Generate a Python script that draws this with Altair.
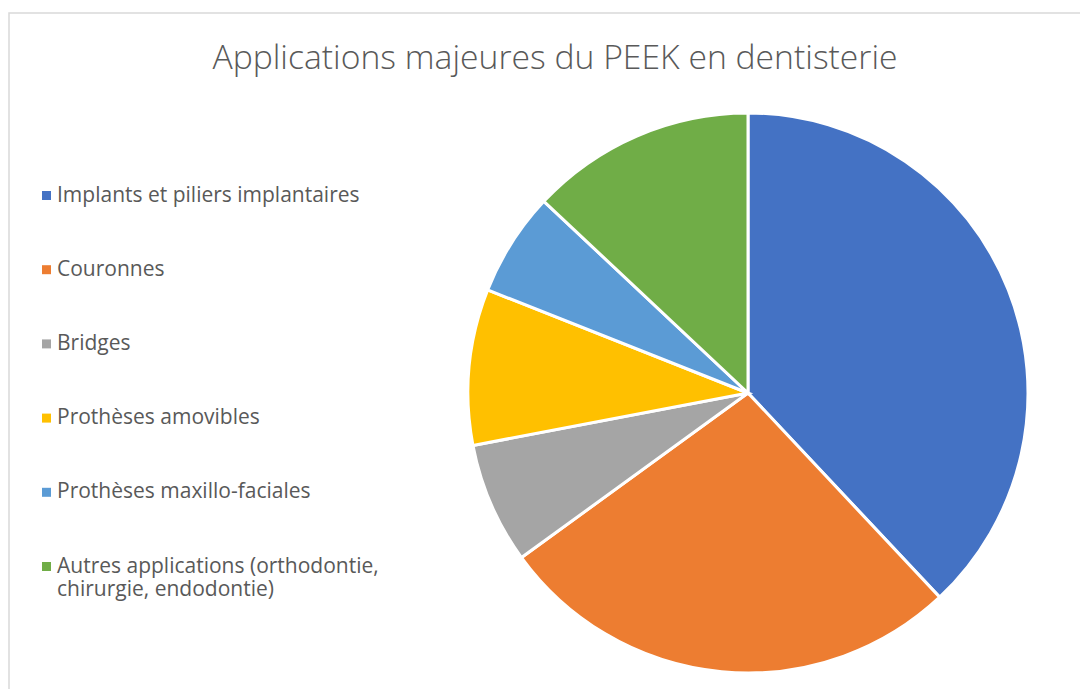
import altair as alt
import pandas as pd

title_text = ["Applications majeures du PEEK en dentisterie"]
categories = [
    "Implants et piliers implantaires",
    "Couronnes",
    "Bridges",
    "Prothèses amovibles",
    "Prothèses maxillo-faciales",
    "Autres applications (orthodontie,|chirurgie, endodontie)",
]
values = [38, 27, 7, 9, 6, 13]
colors = ["#4472C4", "#ED7D31", "#A5A5A5", "#FFC000", "#5B9BD5", "#70AD47"]

df = pd.DataFrame({"cat": categories, "val": values, "idx": list(range(len(categories)))})

FONT = "Open Sans"

frame = alt.Chart(pd.DataFrame({"a": [0]})).mark_rect(
    fill="white", stroke="#D9D9D9", strokeWidth=1.5
).encode(
    x=alt.value(1), x2=alt.value(1200), y=alt.value(5), y2=alt.value(800)
)

title = alt.Chart(pd.DataFrame({"t": title_text})).mark_text(
    font=FONT, fontSize=33.7, fontWeight=300, color="#595959",
    align="center", baseline="alphabetic"
).encode(
    text="t:N", x=alt.value(547), y=alt.value(61)
)

pie = alt.Chart(df).mark_arc(radius=280, stroke="white", strokeWidth=3).encode(
    theta=alt.Theta("val:Q", stack=True),
    order=alt.Order("idx:Q"),
    color=alt.Color(
        "cat:N",
        scale=alt.Scale(domain=categories, range=colors),
        sort=categories,
        legend=alt.Legend(
            title=None,
            orient="none",
            legendX=28,
            legendY=177,
            symbolType="square",
            symbolSize=81,
            symbolStrokeWidth=0,
            labelFont=FONT,
            labelFontSize=21,
            labelColor="#595959",
            labelOffset=0,
            labelLimit=600,
            rowPadding=52.2,
            padding=0,
            labelExpr="split(datum.label, '|')",
        ),
    ),
    x=alt.value(740),
    y=alt.value(385),
)

chart = alt.layer(frame, title, pie).properties(
    width=1072,
    height=681,
    padding=0,
    autosize=alt.AutoSizeParams(type="none"),
).configure_view(stroke=None)

chart.save("out.html", embed_options={"renderer": "svg", "actions": False})
